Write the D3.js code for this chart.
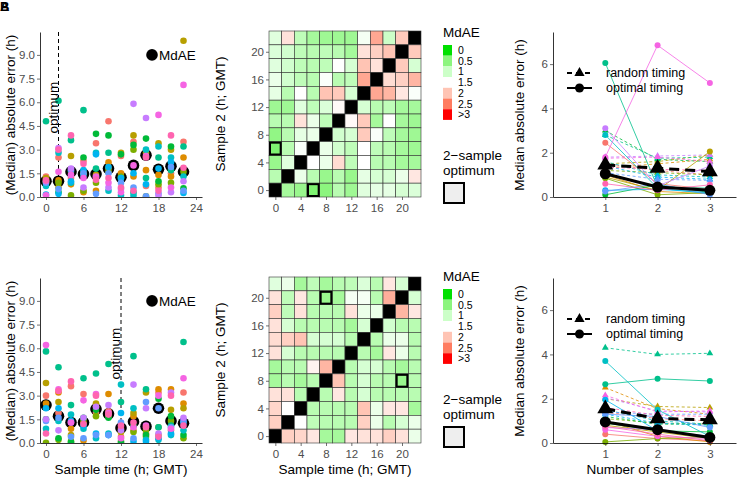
<!DOCTYPE html>
<html lang="en">
<head>
<meta charset="UTF-8" />
<title>MdAE panels</title>
<script src="https://cdnjs.cloudflare.com/ajax/libs/d3/7.8.5/d3.min.js"></script>
<style>
  body, html { margin: 0; padding: 0; background: #fff; }
  svg { display: block; }
  text { font-family: "Liberation Sans", Arial, Helvetica, sans-serif; }
  .tick text { fill: #4d4d4d; font-size: 11.5px; }
  .tick line { stroke: #333; stroke-width: 0.7; }
  .domain { stroke: #000; stroke-width: 0.8; }
  .title { font-size: 13.5px; fill: #000; }
</style>
</head>
<body>
<svg width="738" height="487"></svg>
<script>
const cols = ["#F8766D", "#DE8C00", "#B79F00", "#7CAE00", "#00BA38", "#00C08B",
              "#00BFC4", "#00B4F0", "#619CFF", "#C77CFF", "#F564E3", "#FF64B0"];
const times = [0, 2, 4, 6, 8, 10, 12, 14, 16, 18, 20, 22];

// absolute error per sample time, one value per series (same order as cols)
const errTop = [
  [1.3, 1.1, 1.2, 0.9, 1.0, 4.8, 0.7, 0.15, 0.9, 1.0, 0.1, 1.05],
  [2.5, 1.05, 0.6, 0.9, 0.3, 6.1, 2.8, 0.2, 0.5, 3.1, 1.6, 3.0],
  [1.2, 0.8, 2.6, 0.1, 1.6, 3.6, 0.9, 1.0, 1.7, 1.8, 1.4, 3.9],
  [2.3, 0.3, 1.5, 0.4, 2.5, 5.5, 1.4, 1.7, 1.5, 0.6, 1.2, 2.1],
  [3.4, 0.4, 1.4, 0.9, 4.0, 1.8, 2.8, 2.7, 0.2, 1.2, 1.3, 1.1],
  [4.8, 2.2, 1.8, 1.6, 3.9, 2.8, 0.4, 1.9, 1.5, 0.6, 0.9, 1.2],
  [2.6, 1.5, 2.8, 1.3, 2.7, 1.2, 0.1, 1.2, 0.9, 0.5, 0.3, 0.6],
  [3.5, 1.3, 3.9, 3.0, 3.3, 0.3, 0.1, 1.5, 0.6, 5.9, 2.0, 0.4],
  [0.7, 1.7, 2.8, 0.05, 3.7, 1.2, 3.0, 0.8, 0.05, 5.0, 2.6, 2.5],
  [0.6, 1.4, 3.4, 0.8, 1.0, 2.5, 3.2, 1.8, 0.2, 0.1, 5.2, 0.4],
  [1.5, 1.3, 3.0, 0.9, 3.2, 1.7, 2.5, 2.2, 1.9, 0.3, 0.6, 3.9],
  [3.5, 2.5, 9.9, 1.6, 0.55, 3.2, 1.3, 0.25, 0.4, 1.0, 7.1, 1.85]
];
const mdaeTop = [1.0, 1.0, 1.6, 1.45, 1.45, 1.8, 1.25, 2.0, 2.65, 1.75, 1.95, 1.6];

const errBot = [
  [3.0, 2.5, 3.8, 0.02, 1.5, 5.8, 0.9, 2.2, 1.4, 1.5, 6.2, 0.6],
  [1.9, 3.2, 2.6, 0.2, 0.3, 4.8, 1.4, 2.2, 1.6, 0.8, 3.4, 3.3],
  [3.6, 0.9, 0.5, 0.1, 0.05, 2.4, 1.8, 1.4, 0.4, 1.3, 1.3, 3.9],
  [3.1, 0.15, 1.3, 1.5, 1.6, 4.1, 0.9, 1.1, 0.3, 1.6, 2.7, 1.2],
  [1.9, 2.3, 2.5, 1.7, 2.1, 4.4, 0.3, 0.6, 0.5, 2.3, 3.1, 3.0],
  [2.0, 3.1, 1.8, 1.7, 1.6, 5.0, 0.6, 0.5, 0.5, 2.4, 1.9, 1.8],
  [0.4, 0.9, 0.7, 0.1, 0.02, 2.6, 3.7, 1.9, 1.3, 0.8, 0.3, 1.1],
  [0.8, 1.7, 1.9, 0.7, 1.1, 5.5, 2.2, 0.1, 0.3, 3.7, 1.0, 1.3],
  [0.6, 0.4, 3.2, 0.8, 0.5, 3.4, 0.2, 0.1, 2.6, 2.2, 1.1, 1.0],
  [3.2, 3.4, 0.5, 1.0, 2.8, 1.0, 0.2, 0.3, 2.2, 0.6, 3.0, 0.4],
  [0.8, 3.4, 2.1, 1.4, 1.7, 1.1, 0.5, 0.6, 1.0, 3.2, 0.9, 3.0],
  [3.2, 2.5, 2.2, 0.3, 0.5, 6.4, 0.8, 1.3, 1.4, 1.6, 4.1, 1.1]
];
const mdaeBot = [2.4, 1.7, 1.3, 1.3, 2.15, 1.85, 0.95, 1.35, 1.05, 2.2, 1.4, 1.25];

// MdAE for sample pairs, rows from sample 2 = 22 down to 0, columns sample 1 = 0..22
const heatTop = [
  [1.2, 1.75, 0.9, 0.7, 0.65, 0.65, 0.65, 1.4, 2.2, 1.0, 1.95, null],
  [1.15, 1.05, 0.9, 0.85, 0.9, 0.85, 0.7, 1.75, 1.9, 2.0, null, 1.95],
  [1.2, 1.05, 0.9, 0.85, 0.9, 1.5, 1.1, 2.0, 1.75, null, 1.95, 1.1],
  [1.3, 1.05, 0.9, 0.85, 1.45, 0.85, 0.9, 2.2, null, 1.8, 1.9, 2.1],
  [1.25, 0.85, 1.5, 0.85, 2.0, 1.95, 1.1, null, 2.2, 2.1, 1.7, 1.45],
  [0.65, 0.65, 1.2, 0.9, 1.15, 1.55, null, 1.1, 0.85, 0.9, 0.7, 0.7],
  [0.85, 0.85, 1.75, 1.3, 0.9, null, 1.55, 1.95, 0.7, 1.5, 0.7, 0.65],
  [0.55, 0.85, 1.25, 1.3, null, 1.05, 1.1, 1.95, 1.45, 0.9, 0.7, 0.65],
  [0.45, 0.85, 1.45, null, 1.3, 1.05, 0.9, 1.5, 0.9, 0.85, 0.7, 0.65],
  [0.6, 1.2, null, 1.5, 1.3, 1.8, 0.9, 1.5, 0.85, 0.85, 0.7, 0.7],
  [0.85, null, 1.3, 0.85, 0.6, 0.85, 0.6, 1.25, 1.1, 1.1, 1.3, 1.7],
  [null, 0.7, 0.6, 0.45, 0.5, 0.85, 0.65, 1.2, 1.25, 1.25, 1.1, 1.15]
];
const heatBot = [
  [1.2, 1.3, 0.7, 0.9, 0.7, 0.85, 0.9, 1.15, 0.85, 1.7, 1.1, null],
  [1.75, 0.9, 1.7, 0.85, 0.6, 0.7, 1.4, 1.4, 0.85, 2.15, null, 1.1],
  [1.9, 0.9, 1.75, 0.85, 0.85, 0.85, 1.75, 1.3, 1.3, null, 2.1, 1.7],
  [1.75, 1.1, 0.85, 0.85, 0.85, 0.85, 0.7, 1.1, null, 1.05, 0.85, 0.85],
  [1.8, 1.9, 2.0, 1.1, 1.1, 1.1, 0.85, null, 0.85, 1.3, 1.3, 0.85],
  [1.75, 1.1, 0.85, 0.85, 0.85, 0.85, null, 0.85, 0.7, 1.7, 1.3, 0.85],
  [0.7, 0.85, 0.85, 1.6, 2.1, null, 0.85, 1.1, 1.1, 0.85, 0.7, 0.85],
  [0.7, 0.85, 0.7, 0.85, null, 2.0, 0.85, 1.1, 0.85, 0.85, 0.6, 0.85],
  [1.75, 1.75, 0.85, null, 0.85, 1.7, 0.85, 1.1, 0.85, 0.85, 0.85, 0.85],
  [1.85, 1.5, null, 0.85, 0.85, 0.85, 0.85, 2.0, 1.3, 1.7, 1.7, 0.7],
  [1.9, null, 1.5, 0.9, 0.85, 0.85, 0.85, 1.9, 1.3, 0.85, 1.1, 1.3],
  [null, 1.9, 1.85, 1.7, 0.7, 0.7, 1.7, 1.75, 1.75, 1.9, 1.75, 1.3]
];
const optTop = [[0, 6], [6, 0]];
const optBot = [[8, 20], [20, 8]];
const heatBreaks = [0, 0.5, 1, 1.5, 2, 2.5, 3];
const heatLabels = ["0", "0.5", "1", "1.5", "2", "2.5", ">3"];
const heatCols = ["#00E000", "#8CF57E", "#CCFFC8", "#FFFFFF", "#FFC4B4", "#FF7C60", "#FF0000"];

// median absolute error vs number of samples, one row per series
const nSamples = [1, 2, 3];
const optimalTop = [
  [2.45, 0.6, 0.35], [1.0, 0.25, 0.15], [0.9, 0.3, 2.05], [0.85, 0.1, 0.2],
  [0.1, 0.55, 0.2], [6.05, 0.45, 0.4], [2.8, 0.4, 0.15], [0.3, 0.35, 0.2],
  [0.25, 0.6, 0.1], [3.1, 0.5, 1.4], [1.8, 6.85, 5.15], [0.6, 0.3, 0.55]
];
const randomTop = [
  [1.5, 1.2, 1.0], [1.3, 1.5, 1.7], [1.5, 1.6, 1.9], [1.2, 1.1, 1.0],
  [3.0, 1.7, 1.6], [2.8, 1.75, 1.8], [1.6, 1.0, 0.9], [1.4, 0.9, 0.8],
  [1.1, 0.8, 0.75], [1.8, 1.85, 1.9], [1.75, 1.8, 1.6], [1.35, 1.25, 1.2]
];
const optimalBot = [
  [0.4, 0.2, 0.1], [1.0, 0.3, 0.05], [0.8, 0.5, 0.2], [0.05, 0.2, 0.25],
  [0.9, 0.55, 0.5], [2.65, 2.9, 2.8], [3.7, 1.5, 0.3], [1.95, 0.55, 0.3],
  [1.3, 1.2, 0.7], [0.7, 0.6, 0.3], [0.6, 0.3, 0.2], [0.75, 0.4, 0.1]
];
const randomBot = [
  [1.4, 1.1, 1.0], [2.5, 1.55, 1.3], [2.0, 1.65, 1.6], [1.1, 0.9, 0.85],
  [1.2, 0.85, 0.85], [4.3, 4.0, 4.05], [1.5, 1.0, 0.85], [1.3, 0.9, 0.8],
  [1.4, 1.3, 1.3], [2.05, 1.45, 1.4], [2.15, 1.4, 1.45], [1.6, 1.25, 1.2]
];
const summaryOptTop = [1.05, 0.45, 0.3];
const summaryRandTop = [1.45, 1.3, 1.15];
const summaryOptBot = [0.95, 0.6, 0.25];
const summaryRandBot = [1.55, 1.1, 1.05];

const svg = d3.select("svg");

function yTitle(x, y, label) {
  svg.append("text").attr("class", "title")
    .attr("transform", `translate(${x},${y}) rotate(-90)`)
    .attr("text-anchor", "middle").text(label);
}
function xTitle(x, y, label) {
  svg.append("text").attr("class", "title")
    .attr("x", x).attr("y", y).attr("text-anchor", "middle").text(label);
}

function scatterPanel(y0, err, mdae, optimum, id, showTitle) {
  const x = d3.scaleLinear().domain([-0.96, 24.96]).range([40, 202]);
  const y = d3.scaleLinear().domain([0, 10.45]).range([y0, y0 - 165]);
  svg.append("clipPath").attr("id", id).append("rect")
    .attr("x", 40).attr("y", y0 - 165).attr("width", 162).attr("height", 165);
  const g = svg.append("g").attr("clip-path", `url(#${id})`);

  g.append("line")
    .attr("x1", x(optimum)).attr("x2", x(optimum))
    .attr("y1", y0 - 165).attr("y2", y0)
    .attr("stroke", "#000").attr("stroke-width", 1).attr("stroke-dasharray", "4,3");

  g.selectAll(".md").data(mdae).join("circle")
    .attr("cx", (d, i) => x(times[i])).attr("cy", d => y(d))
    .attr("r", 5.8).attr("fill", "#000");

  const pts = [];
  err.forEach((row, i) => row.forEach((v, s) => pts.push({ t: times[i], v, s })));
  g.selectAll(".pt").data(pts).join("circle")
    .attr("cx", d => x(d.t)).attr("cy", d => y(d.v))
    .attr("r", 3.3).attr("fill", d => cols[d.s]);

  svg.append("text").attr("class", "title")
    .attr("transform", `translate(${x(optimum) - 1},${y(5.66)}) rotate(-90)`)
    .attr("text-anchor", "middle").text("optimum");

  svg.append("g").attr("transform", `translate(40,0)`)
    .call(d3.axisLeft(y).tickValues([0, 1.5, 3, 4.5, 6, 7.5, 9])
      .tickFormat(d3.format(".1f")).tickSize(3).tickSizeOuter(0).tickPadding(2));
  svg.append("g").attr("transform", `translate(0,${y0})`)
    .call(d3.axisBottom(x).tickValues([0, 6, 12, 18, 24])
      .tickSize(3).tickSizeOuter(0).tickPadding(4));

  svg.append("circle").attr("cx", 152).attr("cy", y(9)).attr("r", 5.8).attr("fill", "#000");
  svg.append("text").attr("class", "title").attr("x", 159).attr("y", y(9))
    .attr("dy", "0.35em").text("MdAE");

  yTitle(15, y0 - 82, "(Median) absolute error (h)");
  if (showTitle) xTitle(121, 474, "Sample time (h; GMT)");
}

function heatPanel(y0, mat, opt, showTitle) {
  const x = d3.scaleLinear().domain([-1, 23]).range([269, 421]);
  const y = d3.scaleLinear().domain([-1, 23]).range([y0, y0 - 166]);
  const color = d3.scaleLinear().domain(heatBreaks).range(heatCols).clamp(true);
  const cells = [];
  mat.forEach((row, r) => row.forEach((v, c) => cells.push({ sx: times[c], sy: times[11 - r], v })));

  svg.append("g").selectAll("rect").data(cells).join("rect")
    .attr("x", d => x(d.sx - 1)).attr("y", d => y(d.sy + 1))
    .attr("width", x(1) - x(-1)).attr("height", y(-1) - y(1))
    .attr("fill", d => d.v === null ? "#000" : color(d.v))
    .attr("stroke", "#333").attr("stroke-width", 0.6);

  svg.append("g").selectAll("rect").data(opt).join("rect")
    .attr("x", d => x(d[0] - 1) + 1).attr("y", d => y(d[1] + 1) + 1)
    .attr("width", x(1) - x(-1) - 2).attr("height", y(-1) - y(1) - 2)
    .attr("fill", "none").attr("stroke", "#000").attr("stroke-width", 2);

  svg.append("g").attr("transform", `translate(269,0)`)
    .call(d3.axisLeft(y).tickValues([0, 4, 8, 12, 16, 20]).tickSize(3).tickPadding(2))
    .call(a => a.select(".domain").remove());
  svg.append("g").attr("transform", `translate(0,${y0})`)
    .call(d3.axisBottom(x).tickValues([0, 4, 8, 12, 16, 20]).tickSize(3).tickPadding(4))
    .call(a => a.select(".domain").remove());

  yTitle(225, y0 - 83, "Sample 2 (h; GMT)");
  if (showTitle) xTitle(345, 474, "Sample time (h; GMT)");
}

function heatLegend(top) {
  svg.append("text").attr("class", "title").attr("x", 443).attr("y", top + 9).text("MdAE");
  const key = 10.7;
  const lg = svg.append("g");
  lg.selectAll("rect").data(heatCols).join("rect")
    .attr("x", 443).attr("y", (d, i) => top + 17 + i * key)
    .attr("width", 9).attr("height", key).attr("fill", d => d);
  lg.selectAll("text").data(heatLabels).join("text")
    .attr("x", 458).attr("y", (d, i) => top + 17 + (i + 0.5) * key)
    .attr("dy", "0.35em").attr("font-size", 10.5).text(d => d);
  svg.append("text").attr("class", "title").attr("x", 443).attr("y", top + 132).text("2\u2212sample");
  svg.append("text").attr("class", "title").attr("x", 443).attr("y", top + 147).text("optimum");
  svg.append("rect").attr("x", 444).attr("y", top + 155).attr("width", 20).attr("height", 20)
    .attr("fill", "#EEEEEE").attr("stroke", "#000").attr("stroke-width", 2);
}

function linePanel(y0, opt, rnd, sOpt, sRnd, showTitle) {
  const x = d3.scaleLinear().domain([0, 3.5]).range([553, 736]);
  const y = d3.scaleLinear().domain([0, 7.45]).range([y0, y0 - 165]);
  const line = d3.line().x((d, i) => x(nSamples[i])).y(d => y(d));
  const tri = d3.symbol(d3.symbolTriangle);
  const g = svg.append("g");

  g.selectAll(".rl").data(rnd).join("path")
    .attr("d", line).attr("fill", "none").attr("stroke", (d, i) => cols[i])
    .attr("stroke-width", 0.8).attr("stroke-dasharray", "3,2.5");
  g.selectAll(".ol").data(opt).join("path")
    .attr("d", line).attr("fill", "none").attr("stroke", (d, i) => cols[i])
    .attr("stroke-width", 0.8);

  rnd.forEach((row, s) => {
    g.selectAll(null).data(row).join("path")
      .attr("transform", (d, i) => `translate(${x(nSamples[i])},${y(d)})`)
      .attr("d", tri.size(20)()).attr("fill", cols[s]);
  });
  opt.forEach((row, s) => {
    g.selectAll(null).data(row).join("circle")
      .attr("cx", (d, i) => x(nSamples[i])).attr("cy", d => y(d))
      .attr("r", 3).attr("fill", cols[s]);
  });

  g.append("path").attr("d", line(sRnd)).attr("fill", "none")
    .attr("stroke", "#000").attr("stroke-width", 3).attr("stroke-dasharray", "10,6");
  g.append("path").attr("d", line(sOpt)).attr("fill", "none")
    .attr("stroke", "#000").attr("stroke-width", 3);
  g.selectAll(".st").data(sRnd).join("path")
    .attr("transform", (d, i) => `translate(${x(nSamples[i])},${y(d)})`)
    .attr("d", tri.size(110)()).attr("fill", "#000");
  g.selectAll(".sc").data(sOpt).join("circle")
    .attr("cx", (d, i) => x(nSamples[i])).attr("cy", d => y(d))
    .attr("r", 5.5).attr("fill", "#000");

  svg.append("g").attr("transform", `translate(553,0)`)
    .call(d3.axisLeft(y).tickValues([0, 2, 4, 6]).tickSize(3).tickSizeOuter(0).tickPadding(2));
  svg.append("g").attr("transform", `translate(0,${y0})`)
    .call(d3.axisBottom(x).tickValues([1, 2, 3]).tickFormat(d3.format("d"))
      .tickSize(3).tickSizeOuter(0).tickPadding(4));

  // legend
  const ly1 = y0 - 124, ly2 = y0 - 109;
  svg.append("line").attr("x1", 567).attr("x2", 592).attr("y1", ly1).attr("y2", ly1)
    .attr("stroke", "#000").attr("stroke-width", 2).attr("stroke-dasharray", "5,4");
  svg.append("path").attr("transform", `translate(579.5,${ly1})`)
    .attr("d", tri.size(45)()).attr("fill", "#000");
  svg.append("line").attr("x1", 567).attr("x2", 592).attr("y1", ly2).attr("y2", ly2)
    .attr("stroke", "#000").attr("stroke-width", 2);
  svg.append("circle").attr("cx", 579.5).attr("cy", ly2).attr("r", 4.5).attr("fill", "#000");
  svg.append("text").attr("x", 606).attr("y", ly1).attr("font-size", 12.5)
    .attr("dy", "0.35em").text("random timing");
  svg.append("text").attr("x", 606).attr("y", ly2).attr("font-size", 12.5)
    .attr("dy", "0.35em").text("optimal timing");

  yTitle(524, y0 - 82, "Median absolute error (h)");
  if (showTitle) xTitle(645, 474, "Number of samples");
}

scatterPanel(197, errTop, mdaeTop, 2, "clipTop", false);
scatterPanel(443, errBot, mdaeBot, 12, "clipBot", true);
heatPanel(197, heatTop, optTop, false);
heatPanel(443, heatBot, optBot, true);
heatLegend(28);
heatLegend(272);
linePanel(197, optimalTop, randomTop, summaryOptTop, summaryRandTop, false);
linePanel(443, optimalBot, randomBot, summaryOptBot, summaryRandBot, true);

// overlapping panel tags in the corner
svg.append("text").attr("x", 0).attr("y", 11).attr("font-weight", "bold").attr("font-size", 13).text("A");
svg.append("text").attr("x", 0).attr("y", 11).attr("font-weight", "bold").attr("font-size", 13).text("B");
</script>
</body>
</html>
